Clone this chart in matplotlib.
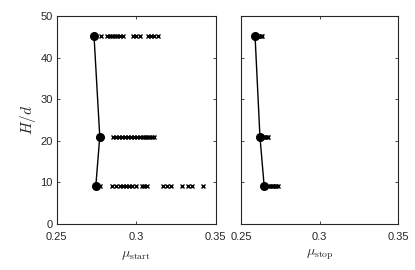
import numpy as np
import matplotlib.pyplot as plt

plt.rcParams['font.family'] = ['Liberation Sans', 'DejaVu Sans']
plt.rcParams['mathtext.fontset'] = 'cm'

# heights H/d
hd = [45.1, 21.0, 9.1]

# mean values (line + circles)
mu_start_mean = [0.2734, 0.2770, 0.2745]
mu_stop_mean = [0.2589, 0.2620, 0.2647]

# individual runs (crosses)
start_45 = [0.2777, 0.2814, 0.2833, 0.2846, 0.2865, 0.2877, 0.2896, 0.2915,
            0.2978, 0.2997, 0.3022, 0.3072, 0.3091, 0.3110, 0.3135]
start_21 = [0.2852, 0.2871, 0.2890, 0.2909, 0.2928, 0.2947, 0.2966, 0.2985,
            0.3004, 0.3022, 0.3041, 0.3053, 0.3066, 0.3079, 0.3098, 0.3110]
start_9 = [0.2770, 0.2846, 0.2871, 0.2896, 0.2915, 0.2934, 0.2953, 0.2972,
           0.2997, 0.3035, 0.3047, 0.3066, 0.3167, 0.3192, 0.3217, 0.3286,
           0.3324, 0.3349, 0.3418]
stop_45 = [0.2605, 0.2615, 0.2625, 0.2632]
stop_21 = [0.2635, 0.2645, 0.2655, 0.2665, 0.2670]
stop_9 = [0.2670, 0.2685, 0.2695, 0.2705, 0.2715, 0.2725, 0.2735]

fig = plt.figure(figsize=(4.15, 2.7), dpi=100)
ax1 = fig.add_axes([0.137, 0.170, 0.383, 0.771])
ax2 = fig.add_axes([0.581, 0.170, 0.378, 0.771])

runs_start = [start_45, start_21, start_9]
runs_stop = [stop_45, stop_21, stop_9]

for ax, mean, runs in [(ax1, mu_start_mean, runs_start), (ax2, mu_stop_mean, runs_stop)]:
    for h, r in zip(hd, runs):
        ax.plot(r, [h] * len(r), 'x', color='black', markersize=3.5, markeredgewidth=1.0)
    ax.plot(mean, hd, '-', color='black', linewidth=1.0)
    ax.plot(mean, hd, 'o', color='black', markersize=5.5)
    ax.set_xlim(0.25, 0.35)
    ax.set_ylim(0, 50)
    ax.set_xticks([0.25, 0.3, 0.35])
    ax.set_xticklabels(['0.25', '0.3', '0.35'])
    ax.set_yticks([0, 10, 20, 30, 40, 50])
    ax.tick_params(direction='in', top=True, right=True, length=2.5, width=0.6,
                   labelsize=8, colors='#262626', pad=3)
    ax.tick_params(axis='x', pad=6)
    for s in ax.spines.values():
        s.set_linewidth(0.8)
        s.set_color('#262626')

ax2.set_yticklabels([])
ax1.set_ylabel('$H/d$', fontsize=11, color='#262626', labelpad=2)
ax1.set_xlabel(r'$\mu_{\mathrm{start}}$', fontsize=10, color='#262626')
ax2.set_xlabel(r'$\mu_{\mathrm{stop}}$', fontsize=10, color='#262626')

fig.savefig('out.png', dpi=100)
